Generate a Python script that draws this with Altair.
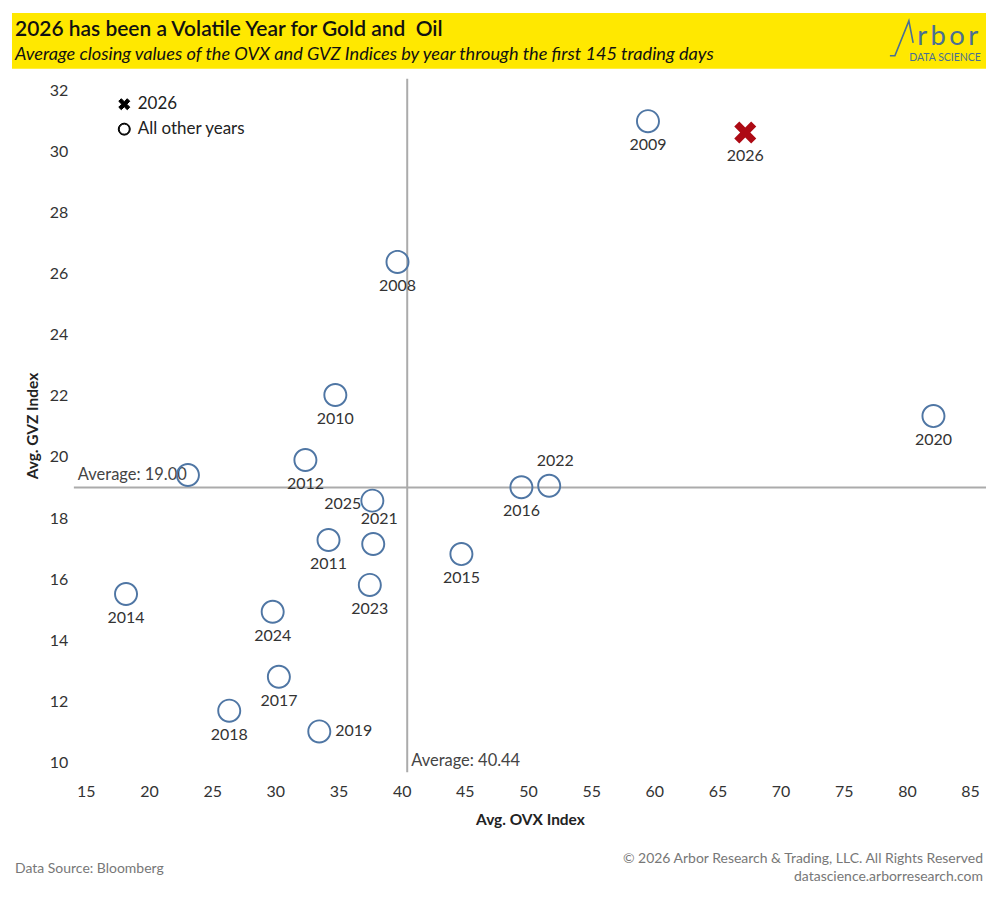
import math
import altair as alt
import pandas as pd

# ---------------- data ----------------
years = [2008, 2009, 2010, 2011, 2012, 2013, 2014, 2015, 2016, 2017,
         2018, 2019, 2020, 2021, 2022, 2023, 2024, 2025, 2026]
ovx = [39.67, 59.50, 34.75, 34.21, 32.38, 23.08, 18.18, 44.73, 49.48, 30.28,
       26.35, 33.48, 82.10, 37.75, 51.68, 37.48, 29.79, 37.68, 67.20]
gvz = [26.39, 31.00, 22.03, 17.28, 19.90, 19.41, 15.51, 16.82, 19.01, 12.80,
       11.69, 11.01, 21.34, 17.15, 19.06, 15.81, 14.93, 18.57, 30.63]
label_pos = ["below", "below", "below", "below", "below", "none", "below", "below", "below", "below",
             "below", "right", "below", "above", "above", "below", "below", "left", "below"]

AVG_OVX = 40.44
AVG_GVZ = 19.00

x_ticks = list(range(15, 86, 5))
y_ticks = list(range(10, 33, 2))
X_DOMAIN = [14.05, 86.26]
Y_DOMAIN = [9.67, 32.39]

GROUPS = ["2026", "All other years"]
TONES = ["All other years", "2026"]
TONE_COLORS = ["#4F76A4", "#AD0A14"]

df = pd.DataFrame({
    "year": years,
    "ovx": ovx,
    "gvz": gvz,
    "pos": label_pos,
})
df["label"] = df["year"].astype(str)
df["group"] = ["2026" if y == 2026 else "All other years" for y in years]
df["tone"] = df["group"]

avg_df = pd.DataFrame({
    "ovx": [AVG_OVX],
    "gvz": [AVG_GVZ],
    "lbl_x": [f"Average: {AVG_OVX:.2f}"],
    "lbl_y": [f"Average: {AVG_GVZ:.2f}"],
})

# ---------------- symbol shapes ----------------
def ring_path(inner=0.84):
    return (f"M-1,0 A1,1 0 1,1 1,0 A1,1 0 1,1 -1,0 Z "
            f"M-{inner},0 A{inner},{inner} 0 1,0 {inner},0 A{inner},{inner} 0 1,0 -{inner},0 Z")


def x_path(a=0.3, L=1.0):
    pts = [(-a, -L), (a, -L), (a, -a), (L, -a), (L, a), (a, a),
           (a, L), (-a, L), (-a, a), (-L, a), (-L, -a), (-a, -a)]
    rot = [((x - y) / math.sqrt(2), (x + y) / math.sqrt(2)) for x, y in pts]
    return "M" + " L".join(f"{x:.3f},{y:.3f}" for x, y in rot) + " Z"


RING = ring_path()
CROSS = x_path()

W, H = 914, 695
FONT = "Lato"
TXT = "#333333"
LBL = 16

x_enc = alt.X("ovx:Q",
              scale=alt.Scale(domain=X_DOMAIN, nice=False, zero=False),
              axis=alt.Axis(title="Avg. OVX Index", values=x_ticks))
y_enc = alt.Y("gvz:Q",
              scale=alt.Scale(domain=Y_DOMAIN, nice=False, zero=False),
              axis=alt.Axis(title="Avg. GVZ Index", values=y_ticks))

# ---------------- reference lines ----------------
vrule = alt.Chart(avg_df).mark_rule(color="#ABABAB", strokeWidth=2).encode(x=x_enc)
hrule = alt.Chart(avg_df).mark_rule(color="#ABABAB", strokeWidth=2).encode(y=y_enc)

avg_y_text = alt.Chart(avg_df).mark_text(
    align="left", baseline="middle", dy=-13, font=FONT, fontSize=16.5, color="#444444"
).encode(x=alt.value(4), y=y_enc, text="lbl_y:N")
avg_x_text = alt.Chart(avg_df).mark_text(
    align="left", baseline="middle", dx=4, font=FONT, fontSize=16.5, color="#444444"
).encode(x=x_enc, y=alt.value(684), text="lbl_x:N")

# ---------------- points ----------------
points = alt.Chart(df).mark_point(filled=True, size=576, opacity=1, strokeWidth=0).encode(
    x=x_enc,
    y=y_enc,
    shape=alt.Shape("group:N",
                    scale=alt.Scale(domain=GROUPS, range=[CROSS, RING]),
                    legend=alt.Legend(title=None, orient="none", legendX=42, legendY=17,
                                      symbolSize=144, symbolFillColor="black",
                                      symbolStrokeColor="black", symbolStrokeWidth=1,
                                      labelFont=FONT, labelFontSize=17, labelColor="#222222",
                                      rowPadding=7, labelOffset=5, padding=0)),
    color=alt.Color("tone:N", scale=alt.Scale(domain=TONES, range=TONE_COLORS), legend=None),
)

# ---------------- point labels ----------------
LABEL_STYLE = {
    "below": dict(dx=0, dy=24, align="center"),
    "left": dict(dx=-11, dy=3, align="right"),
    "right": dict(dx=16, dy=0, align="left"),
    "above": dict(dx=6, dy=-25, align="center"),
}
label_layers = []
for pos, st in LABEL_STYLE.items():
    label_layers.append(
        alt.Chart(df).transform_filter(alt.datum.pos == pos).mark_text(
            baseline="middle", font=FONT, fontSize=LBL, color=TXT, **st
        ).encode(x=x_enc, y=y_enc, text="label:N")
    )

# ---------------- header / footer ----------------
one = alt.Data(values=[{}])
banner = alt.Chart(one).mark_rect(color="#FFE800").encode(
    x=alt.value(-62), x2=alt.value(914), y=alt.value(-66), y2=alt.value(-10))
title = alt.Chart(one).mark_text(
    text="2026 has been a Volatile Year for Gold and \u00a0Oil", align="left", baseline="middle",
    font=FONT, fontSize=21, fontWeight=600, color="#111111"
).encode(x=alt.value(-59), y=alt.value(-49))
subtitle = alt.Chart(one).mark_text(
    text="Average closing values of the OVX and GVZ Indices by year through the first 145 trading days",
    align="left", baseline="middle", font=FONT, fontSize=18.2, fontStyle="italic", color="#111111"
).encode(x=alt.value(-59), y=alt.value(-24))

LOGO = "#4A6F94"
logo_line = alt.Chart(one).mark_point(
    shape="M-18.3,20 L-13.3,20 L0.7,-15 L5,7", size=4, filled=False,
    color=LOGO, strokeWidth=1.6, opacity=1
).encode(x=alt.value(836), y=alt.value(-43))
logo_text = alt.Chart(one).mark_text(
    text="r\u2009b\u2009o\u2009r", align="left", baseline="alphabetic", font=FONT, fontSize=27.5,
    color=LOGO
).encode(x=alt.value(845), y=alt.value(-34))
logo_sub = alt.Chart(one).mark_text(
    text="DATA SCIENCE", align="left", baseline="middle", font=FONT, fontSize=10.5, color=LOGO
).encode(x=alt.value(837), y=alt.value(-21))

FOOT = "#777777"
foot_src = alt.Chart(one).mark_text(
    text="Data Source: Bloomberg", align="left", baseline="middle", font=FONT, fontSize=14, color=FOOT
).encode(x=alt.value(-59), y=alt.value(792))
foot_copy = alt.Chart(one).mark_text(
    text="\u00a9 2026 Arbor Research & Trading, LLC. All Rights Reserved", align="right",
    baseline="middle", font=FONT, fontSize=14, color=FOOT
).encode(x=alt.value(911), y=alt.value(782))
foot_url = alt.Chart(one).mark_text(
    text="datascience.arborresearch.com", align="right", baseline="middle", font=FONT,
    fontSize=14, color=FOOT
).encode(x=alt.value(911), y=alt.value(800))

chart = alt.layer(
    banner, title, subtitle, logo_line, logo_text, logo_sub,
    vrule, hrule, avg_y_text, avg_x_text, points, *label_layers,
    foot_src, foot_copy, foot_url,
).properties(
    width=W, height=H,
    autosize=alt.AutoSizeParams(type="none"),
    padding={"left": 66, "top": 70, "right": 6, "bottom": 115},
    background="white",
).configure_view(strokeWidth=0).configure_axis(
    domain=False, ticks=False, grid=False,
    labelFont=FONT, labelFontSize=16, labelColor=TXT,
    titleFont=FONT, titleFontSize=15.5, titleFontWeight="bold", titleColor="#222222",
).configure_axisX(labelPadding=11, titlePadding=13).configure_axisY(
    labelPadding=6, titlePadding=9)

chart.save("out.html", embed_options={"renderer": "svg", "actions": False})
